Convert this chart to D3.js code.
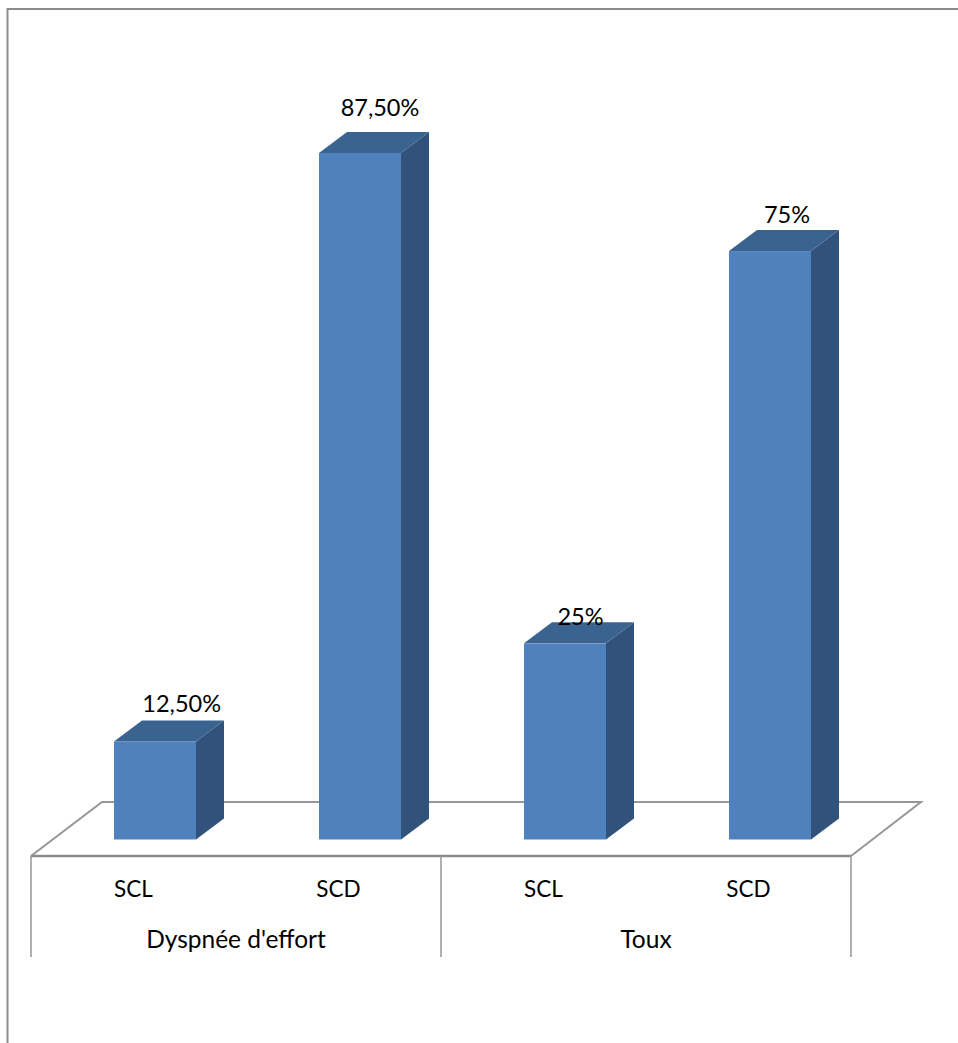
<!DOCTYPE html>
<html>
<head>
<meta charset="utf-8">
<script src="https://cdn.jsdelivr.net/npm/d3@7"></script>
<style>
html, body { margin: 0; padding: 0; background: #fff; }
svg { display: block; }
text { font-family: Lato, "Open Sans", sans-serif; fill: #000; }
</style>
</head>
<body>
<div id="chart"></div>
<script>
// Symptom frequency by group, in percent
const groups = ["Dyspnée d'effort", "Toux"];
const subgroups = ["SCL", "SCD", "SCL", "SCD"];
const values = [12.5, 87.5, 25, 75];
const valueLabels = ["12,50%", "87,50%", "25%", "75%"];

const width = 958, height = 1043;
const colors = { front: "#4f81bd", top: "#3b6390", side: "#31537b", rule: "#969696" };
const fontSize = { value: 23.5, subgroup: 22.5, group: 24.5 };

// Oblique projection used for the depth of the bars and the floor
const depth = { dx: 28, dy: -21 };

// Hand placement of the value labels, relative to each bar's front top edge
const labelNudge = [[26.7, -29], [20, -37], [15.5, -18.5], [17, -28.5]];

const svg = d3.select("#chart").append("svg")
  .attr("width", width).attr("height", height)
  .attr("viewBox", [0, 0, width, height]);

const y = d3.scaleLinear().domain([0, 87.5]).range([839.5, 153]);

const x = d3.scaleBand()
  .domain(d3.range(values.length))
  .range([52.5, 872.5])
  .paddingInner(0.6)
  .paddingOuter(0.3);

// Axis bands sit on the front edge of the floor
const axisLeft = 31, axisRight = 851, floorFront = 856;
const xLabels = d3.scaleBand().domain(d3.range(subgroups.length)).range([axisLeft, axisRight]);
const xGroups = d3.scaleBand().domain(d3.range(groups.length)).range([axisLeft, axisRight]);

// Outer frame, only its top and left edges are visible
svg.append("path")
  .attr("d", "M7.5,1043V9H958")
  .attr("fill", "none").attr("stroke", "#8c8c8c").attr("stroke-width", 2);

// Floor
const floorBack = floorFront - 54;
svg.append("path")
  .attr("d", `M${axisLeft},${floorFront}L${axisLeft + 71},${floorBack}H${axisRight + 70}L${axisRight},${floorFront}`)
  .attr("fill", "none").attr("stroke", colors.rule).attr("stroke-width", 2);
svg.append("path")
  .attr("d", `M${axisLeft},${floorFront}H${axisRight}`)
  .attr("fill", "none").attr("stroke", "#8c8c8c").attr("stroke-width", 2.5);

// Bars: front, top and side faces
const bars = svg.append("g").selectAll("g").data(values).join("g");
bars.append("path")
  .attr("fill", colors.side)
  .attr("d", (d, i) => {
    const r = x(i) + x.bandwidth();
    return `M${r},${y(d)}l${depth.dx},${depth.dy}V${y(0) + depth.dy}L${r},${y(0)}Z`;
  });
bars.append("path")
  .attr("fill", colors.top)
  .attr("d", (d, i) => `M${x(i)},${y(d)}l${depth.dx},${depth.dy}h${x.bandwidth()}l${-depth.dx},${-depth.dy}Z`);
bars.append("rect")
  .attr("fill", colors.front)
  .attr("x", (d, i) => x(i))
  .attr("y", d => y(d))
  .attr("width", x.bandwidth())
  .attr("height", d => y(0) - y(d));

// Value labels are drawn last: the 25% one runs over its bar's top face
svg.append("g").selectAll("text").data(values).join("text")
  .attr("x", (d, i) => x(i) + x.bandwidth() / 2 + labelNudge[i][0])
  .attr("y", (d, i) => y(d) + labelNudge[i][1])
  .attr("text-anchor", "middle")
  .attr("font-size", fontSize.value)
  .text((d, i) => valueLabels[i]);

// Two-level category axis
const axisLower = d3.axisBottom(xLabels).tickSize(0).tickPadding(0).tickFormat(i => subgroups[i]);
const axisUpper = d3.axisBottom(xGroups).tickSize(0).tickPadding(0).tickFormat(i => groups[i]);

const labelRow = svg.append("g").attr("transform", `translate(0,${floorFront + 25})`).call(axisLower);
const groupRow = svg.append("g").attr("transform", `translate(0,${floorFront + 75})`).call(axisUpper);
[[labelRow, fontSize.subgroup], [groupRow, fontSize.group]].forEach(([row, size]) => {
  row.select(".domain").remove();
  row.selectAll("text")
    .attr("font-size", size)
    .style("font-family", 'Lato, "Open Sans", sans-serif')
    .attr("fill", "#000");
});

// Group dividers
svg.append("g").selectAll("line").data(d3.range(groups.length + 1)).join("line")
  .attr("x1", i => axisLeft + i * xGroups.step())
  .attr("x2", i => axisLeft + i * xGroups.step())
  .attr("y1", floorFront)
  .attr("y2", 957)
  .attr("stroke", colors.rule)
  .attr("stroke-width", 1.5);
</script>
</body>
</html>
